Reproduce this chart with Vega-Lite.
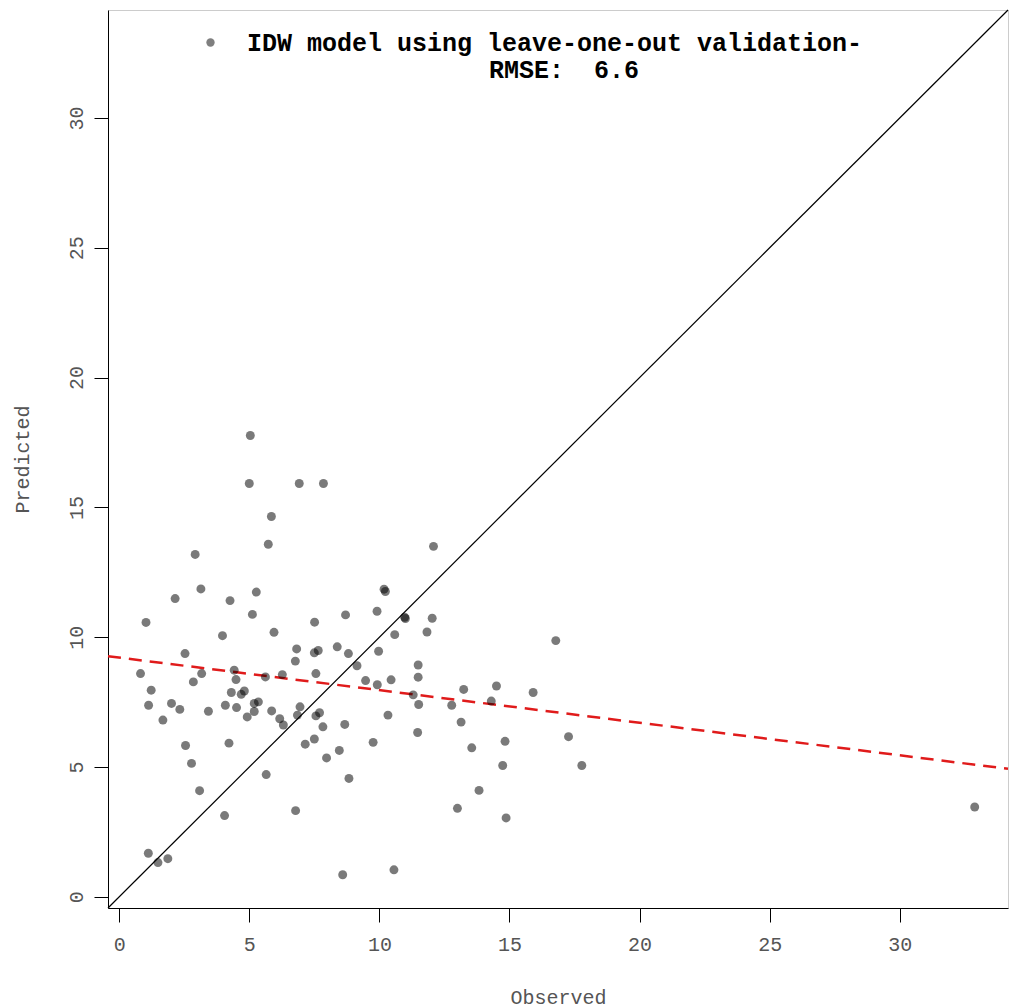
{
  "$schema": "https://vega.github.io/schema/vega-lite/v6.json",
  "width": 900,
  "height": 898,
  "autosize": {"type": "none"},
  "padding": {"left": 108, "top": 10, "right": 3, "bottom": 100},
  "background": "white",
  "title": {
    "text": "RMSE: \u00a06.6",
    "anchor": "middle",
    "offset": -75,
    "dx": 6,
    "font": "Liberation Mono",
    "fontSize": 25,
    "fontWeight": "bold",
    "color": "#000000"
  },
  "config": {
    "view": {"stroke": "#cccccc", "strokeWidth": 1},
    "axis": {
      "grid": false,
      "domainColor": "#000000",
      "domainWidth": 1,
      "tickColor": "#000000",
      "tickWidth": 1,
      "tickSize": 14,
      "labelFont": "Liberation Mono",
      "labelFontSize": 20,
      "labelColor": "#555555",
      "titleFont": "Liberation Mono",
      "titleFontSize": 20,
      "titleFontWeight": "normal",
      "titleColor": "#555555"
    }
  },
  "datasets": {
    "points": [
      {"observed": 5.04, "predicted": 17.77}, {"observed": 5.0, "predicted": 15.92}, {"observed": 6.92, "predicted": 15.92},
      {"observed": 7.85, "predicted": 15.92}, {"observed": 5.85, "predicted": 14.65}, {"observed": 5.73, "predicted": 13.58},
      {"observed": 12.08, "predicted": 13.5}, {"observed": 2.92, "predicted": 13.19},
      {"observed": 1.03, "predicted": 10.57}, {"observed": 2.15, "predicted": 11.49}, {"observed": 3.14, "predicted": 11.86},
      {"observed": 4.26, "predicted": 11.41}, {"observed": 5.27, "predicted": 11.74}, {"observed": 5.12, "predicted": 10.88},
      {"observed": 5.95, "predicted": 10.19}, {"observed": 3.97, "predicted": 10.06}, {"observed": 2.53, "predicted": 9.37},
      {"observed": 0.82, "predicted": 8.6}, {"observed": 1.23, "predicted": 7.96}, {"observed": 1.13, "predicted": 7.38},
      {"observed": 2.01, "predicted": 7.45}, {"observed": 2.33, "predicted": 7.22}, {"observed": 1.68, "predicted": 6.81},
      {"observed": 3.17, "predicted": 8.6}, {"observed": 2.85, "predicted": 8.28}, {"observed": 3.43, "predicted": 7.15},
      {"observed": 4.42, "predicted": 8.73}, {"observed": 4.49, "predicted": 8.37}, {"observed": 4.31, "predicted": 7.87},
      {"observed": 4.81, "predicted": 7.93}, {"observed": 4.69, "predicted": 7.8}, {"observed": 4.08, "predicted": 7.38},
      {"observed": 4.51, "predicted": 7.29}, {"observed": 5.19, "predicted": 7.45}, {"observed": 5.35, "predicted": 7.51},
      {"observed": 4.92, "predicted": 6.93}, {"observed": 5.19, "predicted": 7.14}, {"observed": 5.62, "predicted": 8.47},
      {"observed": 6.27, "predicted": 8.56}, {"observed": 5.86, "predicted": 7.16}, {"observed": 6.17, "predicted": 6.86},
      {"observed": 6.31, "predicted": 6.62},
      {"observed": 10.18, "predicted": 11.85}, {"observed": 10.23, "predicted": 11.76}, {"observed": 8.7, "predicted": 10.86},
      {"observed": 9.91, "predicted": 11.0}, {"observed": 7.51, "predicted": 10.58}, {"observed": 10.97, "predicted": 10.77},
      {"observed": 11.0, "predicted": 10.72}, {"observed": 12.03, "predicted": 10.73}, {"observed": 11.83, "predicted": 10.2},
      {"observed": 10.59, "predicted": 10.1}, {"observed": 6.82, "predicted": 9.55}, {"observed": 7.5, "predicted": 9.4},
      {"observed": 7.65, "predicted": 9.49}, {"observed": 8.38, "predicted": 9.63}, {"observed": 8.81, "predicted": 9.37},
      {"observed": 9.97, "predicted": 9.46}, {"observed": 6.77, "predicted": 9.08}, {"observed": 9.14, "predicted": 8.9},
      {"observed": 11.49, "predicted": 8.93}, {"observed": 7.56, "predicted": 8.6}, {"observed": 9.47, "predicted": 8.33},
      {"observed": 9.92, "predicted": 8.17}, {"observed": 10.45, "predicted": 8.36}, {"observed": 11.49, "predicted": 8.46},
      {"observed": 11.3, "predicted": 7.78}, {"observed": 11.51, "predicted": 7.41}, {"observed": 6.95, "predicted": 7.32},
      {"observed": 6.85, "predicted": 7.0}, {"observed": 7.56, "predicted": 6.97}, {"observed": 7.7, "predicted": 7.09},
      {"observed": 7.83, "predicted": 6.55}, {"observed": 8.67, "predicted": 6.64}, {"observed": 10.33, "predicted": 7.0},
      {"observed": 16.78, "predicted": 9.87}, {"observed": 13.24, "predicted": 7.99}, {"observed": 14.5, "predicted": 8.12},
      {"observed": 15.91, "predicted": 7.87}, {"observed": 12.78, "predicted": 7.38}, {"observed": 14.3, "predicted": 7.54},
      {"observed": 13.14, "predicted": 6.73},
      {"observed": 2.55, "predicted": 5.83}, {"observed": 4.22, "predicted": 5.92}, {"observed": 2.78, "predicted": 5.14},
      {"observed": 5.65, "predicted": 4.71}, {"observed": 3.09, "predicted": 4.09}, {"observed": 4.05, "predicted": 3.13},
      {"observed": 1.12, "predicted": 1.68}, {"observed": 1.49, "predicted": 1.32}, {"observed": 1.87, "predicted": 1.47},
      {"observed": 11.47, "predicted": 6.33}, {"observed": 7.5, "predicted": 6.08}, {"observed": 7.15, "predicted": 5.88},
      {"observed": 8.46, "predicted": 5.64}, {"observed": 9.76, "predicted": 5.95}, {"observed": 7.97, "predicted": 5.35},
      {"observed": 8.83, "predicted": 4.56}, {"observed": 6.78, "predicted": 3.32}, {"observed": 8.59, "predicted": 0.85},
      {"observed": 10.56, "predicted": 1.04},
      {"observed": 17.27, "predicted": 6.17}, {"observed": 13.55, "predicted": 5.74}, {"observed": 14.83, "predicted": 5.99},
      {"observed": 14.74, "predicted": 5.06}, {"observed": 17.78, "predicted": 5.06}, {"observed": 13.83, "predicted": 4.1},
      {"observed": 13.0, "predicted": 3.41}, {"observed": 14.87, "predicted": 3.04},
      {"observed": 32.88, "predicted": 3.46}
    ],
    "identity": [
      {"observed": -0.43, "predicted": -0.43},
      {"observed": 34.16, "predicted": 34.16}
    ],
    "fit": [
      {"observed": -0.43, "predicted": 9.27},
      {"observed": 34.16, "predicted": 4.93}
    ]
  },
  "encoding": {
    "x": {
      "field": "observed",
      "type": "quantitative",
      "scale": {"domain": [-0.43, 34.16], "nice": false, "zero": false},
      "axis": {
        "title": "Observed",
        "values": [0, 5, 10, 15, 20, 25, 30],
        "labelPadding": 12,
        "titlePadding": 33
      }
    },
    "y": {
      "field": "predicted",
      "type": "quantitative",
      "scale": {"domain": [-0.43, 34.16], "nice": false, "zero": false},
      "axis": {
        "title": "Predicted",
        "values": [0, 5, 10, 15, 20, 25, 30],
        "labelAngle": -90,
        "labelAlign": "center",
        "labelBaseline": "alphabetic",
        "labelPadding": 12,
        "titlePadding": 34
      }
    }
  },
  "layer": [
    {
      "data": {"name": "identity"},
      "mark": {"type": "line", "color": "#000000", "strokeWidth": 1.2}
    },
    {
      "data": {"name": "fit"},
      "mark": {"type": "line", "color": "#e01b1b", "strokeWidth": 2.5, "strokeDash": [13, 8]}
    },
    {
      "data": {"name": "points"},
      "mark": {"type": "point", "filled": true, "opacity": 0.52, "size": 80, "strokeWidth": 0},
      "encoding": {
        "color": {
          "datum": "IDW model using leave-one-out validation-",
          "type": "nominal",
          "scale": {"range": ["#000000"]},
          "legend": {
            "title": null,
            "orient": "none",
            "legendX": 90,
            "legendY": 20,
            "padding": 0,
            "symbolType": "circle",
            "symbolSize": 70,
            "symbolOpacity": 0.5,
            "labelOffset": 24,
            "labelLimit": 0,
            "labelFont": "Liberation Mono",
            "labelFontSize": 25,
            "labelFontWeight": "bold",
            "labelColor": "#000000"
          }
        }
      }
    }
  ]
}
